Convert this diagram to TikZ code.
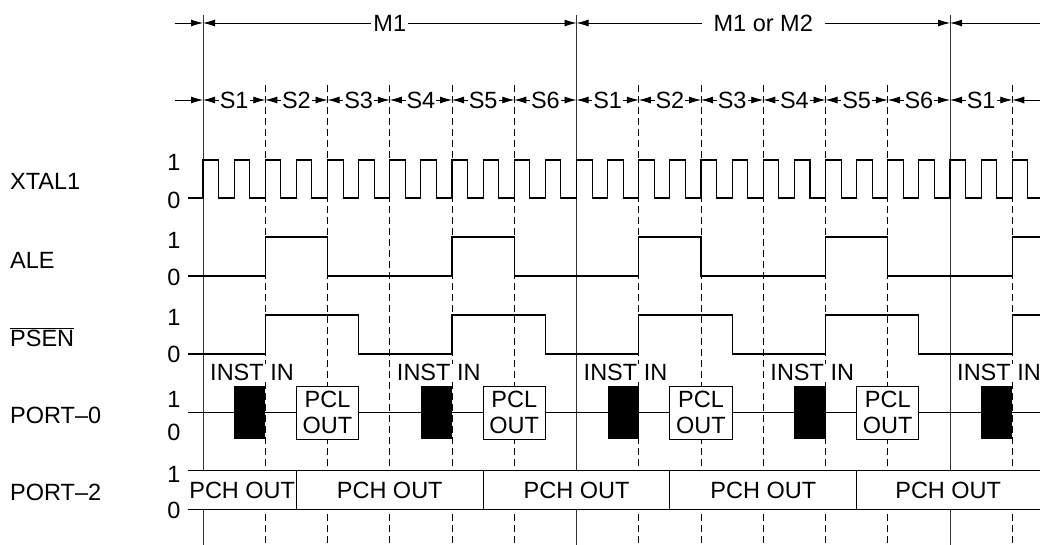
\documentclass[tikz,border=0pt]{standalone}
\usepackage{fontspec}
\setmainfont{Liberation Sans}
\usetikzlibrary{arrows.meta,positioning}

\begin{document}
\begin{tikzpicture}[
		x=1pt, y=-1pt,
		font=\fontsize{23.5}{26.7}\selectfont,
		grid/.style={line width=0.8pt, black!80},
		dashgrid/.style={line width=0.8pt, dash pattern=on 7pt off 4pt},
		wave/.style={line width=1.1pt},
		dim/.style={line width=0.8pt, {Latex[length=12pt,width=7pt]}-{Latex[length=12pt,width=7pt]}},
		tipR/.style={line width=0.8pt, -{Latex[length=12pt,width=7pt]}},
		tipL/.style={line width=0.8pt, {Latex[length=12pt,width=7pt]}-},
		lbl/.style={fill=white, inner sep=1pt},
		sig/.style={anchor=west, inner sep=0},
		lvl/.style={inner sep=0},
		inst/.style={fill=black, minimum width=31.125pt, minimum height=53pt, inner sep=0},
		pcl/.style={draw, line width=0.8pt, fill=white, align=center, minimum width=62.25pt, minimum height=53pt, inner sep=0}
		]
		\useasboundingbox (0,0) rectangle (1040,545);
		
		% state boundaries
		\foreach \k in {0,...,13} {
			\coordinate (top\k) at ({203+62.25*\k},23);
			\coordinate (s\k) at ({203+62.25*\k},100);
		}
		\coordinate (mL) at (175,23);
		\coordinate (mR) at (1040,23);
		\coordinate (sL) at (175,100);
		\coordinate (sR) at (1040,100);
		
		% grid lines
		\foreach \k in {0,6,12}
			\draw [grid] ({203+62.25*\k},15) -- ({203+62.25*\k},545);
		\foreach \k in {1,2,3,4,5,7,8,9,10,11,13}
			\draw [dashgrid] ({203+62.25*\k},85) -- ({203+62.25*\k},545);
		
		% machine cycles
		\draw [tipR] (mL) -- (top0);
		\draw [dim] (top0) -- node [lbl, inner sep=2pt] (m1) {M1} (top6);
		\draw [dim] (top6) -- node [lbl, inner xsep=12pt] (m2) {M1 or M2} (top12);
		\draw [tipL] (top12) -- (mR);
		
		% states
		\draw [tipR] (sL) -- (s0);
		\foreach \k in {0,...,12} {
			\pgfmathtruncatemacro\j{\k+1}
			\pgfmathtruncatemacro\n{mod(\k,6)+1}
			\draw [dim] (s\k) -- node [lbl] (st\k) {S\n} (s\j);
		}
		\draw [tipL] (s13) -- (sR);
		
		% signal names
		\node [sig] (xtal) at (10,181) {XTAL1};
		\node [sig] (ale) at (10,260) {ALE};
		\node [sig] (psen) at (10,337) {$\overline{\mbox{PSEN}}$};
		\node [sig] (port0) at (10,415) {PORT--0};
		\node [sig] (port2) at (10,492) {PORT--2};
		
		% levels
		\node [lvl] (x1) at (174,162) {1};
		\node [lvl] (x0) at (174,200) {0};
		\node [lvl] (a1) at (174,240) {1};
		\node [lvl] (a0) at (174,277) {0};
		\node [lvl] (p1) at (174,317) {1};
		\node [lvl] (p0) at (174,354) {0};
		\node [lvl] (o1) at (174,399) {1};
		\node [lvl] (o0) at (174,432) {0};
		\node [lvl] (t1) at (174,474) {1};
		\node [lvl] (t0) at (174,510) {0};
		
		% XTAL1
		\draw [wave] (188,198) -- (203,198)
			\foreach \j in {1,...,27} { -- ++(0,-38) -- ++(15.5625,0) -- ++(0,38) -- ++(15.5625,0) };
		
		% ALE
		\draw [wave] (188,276)
			\foreach \k in {0,...,4} { -- ({265.25+186.75*\k},276) -- ++(0,-39) -- ++(62.25,0) -- ++(0,39) };
		
		% PSEN
		\draw [wave] (188,354)
			\foreach \k in {0,...,4} { -- ({265.25+186.75*\k},354) -- ++(0,-39) -- ++(93.375,0) -- ++(0,39) };
		
		% PORT-0
		\draw [wave] (188,412.5) -- (1040,412.5);
		\foreach \k in {0,...,4} {
			\node [inst] (in\k) at ({249.6875+186.75*\k},412.5) {};
			\node [fill=white, inner sep=0] (it\k) at ({252+186.75*\k},372) {INST IN};
		}
		\foreach \k in {0,...,3}
			\node [pcl] (pcl\k) at ({327.5+186.75*\k},412.5) {PCL\\OUT};
		
		% PORT-2
		\fill [white] (188,470.7) rectangle (1040,509.3);
		\draw [wave] (188,470.7) -- (1040,470.7);
		\draw [wave] (188,509.3) -- (1040,509.3);
		\foreach \k in {0,...,3}
			\draw [wave] ({296.375+186.75*\k},470.7) -- ({296.375+186.75*\k},509.3);
		\foreach \k/\x in {0/242.2,1/389.75,2/576.5,3/763.25,4/948.2}
			\node [inner sep=0] (pch\k) at (\x,490.5) {PCH OUT};
		
\end{tikzpicture}
\end{document}
